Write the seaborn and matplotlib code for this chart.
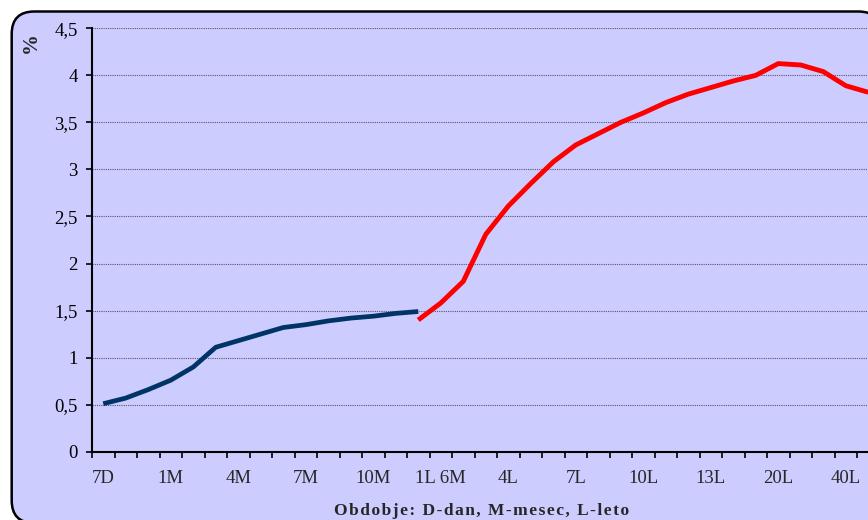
import numpy as np
import pandas as pd
import matplotlib
matplotlib.use('Agg')
import matplotlib.pyplot as plt
from matplotlib.patches import FancyBboxPatch
from matplotlib.ticker import FixedLocator, FuncFormatter
import seaborn as sns

# category labels along the x axis (only every 3rd is shown)
categories = ['7D', '14D', '21D', '1M', '2M', '3M', '4M', '5M', '6M', '7M', '8M', '9M',
              '10M', '11M', '12M', '1L 6M', '2L', '3L', '4L', '5L', '6L', '7L', '8L', '9L',
              '10L', '11L', '12L', '13L', '14L', '15L', '20L', '25L', '30L', '40L', '50L']

# money market curve (navy), categories 0..14
navy_values = [0.51, 0.57, 0.66, 0.76, 0.90, 1.11, 1.18, 1.25, 1.32, 1.35, 1.39, 1.42,
               1.44, 1.47, 1.49]
# bond curve (red), categories 14..34
red_values = [1.40, 1.58, 1.81, 2.31, 2.61, 2.85, 3.08, 3.26, 3.38, 3.50, 3.60, 3.71,
              3.80, 3.87, 3.94, 4.00, 4.125, 4.11, 4.04, 3.89, 3.82]

y_ticks = [0, 0.5, 1, 1.5, 2, 2.5, 3, 3.5, 4, 4.5]

bg = '#CCCCFF'
navy = '#003366'
red = '#FF0000'

sns.set_style('white')
plt.rcParams['font.family'] = ['Liberation Serif', 'DejaVu Serif']

navy_df = pd.DataFrame({'k': np.arange(len(navy_values)), 'v': navy_values})
red_df = pd.DataFrame({'k': np.arange(14, 14 + len(red_values)), 'v': red_values})

W, H = 868, 520
fig = plt.figure(figsize=(W / 100, H / 100), dpi=100)
fig.patch.set_facecolor('white')

# rounded chart border (cut off on the right and bottom like the original)
border = FancyBboxPatch((11.7 / W, -3.0 / H), (881 - 11.7) / W, (508.5 + 3.0) / H,
                        boxstyle='round,pad=0,rounding_size=0.026',
                        transform=fig.transFigure, facecolor=bg, edgecolor='black',
                        linewidth=1.8, mutation_aspect=W / H, zorder=-5)
fig.patches.append(border)

step = 22.5
n_axis = 36
ax = fig.add_axes([92 / W, 68.3 / H, n_axis * step / W, (451.7 - 28.3) / H])
ax.set_facecolor(bg)
ax.set_zorder(1)

sns.lineplot(data=navy_df, x='k', y='v', ax=ax, color=navy, linewidth=3.4,
             solid_capstyle='butt', zorder=3)
sns.lineplot(data=red_df, x='k', y='v', ax=ax, color=red, linewidth=3.5,
             solid_capstyle='butt', zorder=3)

ax.set_xlim(-0.5, n_axis - 0.5)
ax.set_ylim(0, 4.5)

# y axis
ax.set_yticks(y_ticks)
ax.yaxis.set_major_formatter(FuncFormatter(lambda v, p: f'{v:g}'.replace('.', ',')))
ax.yaxis.grid(True, color='#555566', linestyle=(0, (1, 1)), linewidth=0.8)
ax.tick_params(axis='y', direction='out', length=4.3, width=1.2, pad=6,
               labelsize=13.5, left=True, colors='black')

# x axis: tick marks at category boundaries, labels every 3rd category
label_pos = list(range(0, len(categories), 3))
ax.set_xticks(label_pos)
ax.set_xticklabels([categories[i] for i in label_pos])
ax.xaxis.set_minor_locator(FixedLocator(np.arange(-0.5, n_axis, 1)))
ax.tick_params(axis='x', which='major', length=0, pad=13, labelsize=13.5)
ax.tick_params(axis='x', which='minor', direction='out', length=4.3, width=1.2,
               bottom=True, color='black')
ax.xaxis.grid(False)

for s in ['top', 'right']:
    ax.spines[s].set_visible(False)
for s in ['left', 'bottom']:
    ax.spines[s].set_color('black')
    ax.spines[s].set_linewidth(1.5)

ax.set_xlabel('')
ax.set_ylabel('')

# x axis title, letter-spaced a little like the original rendering
xtitle = '\u200a'.join('Obdobje: D-dan, M-mesec, L-leto')
fig.text(482 / W, 1 - 511 / H, xtitle, ha='center', va='center',
         fontsize=12.5, fontweight='bold')
fig.text(31 / W, 1 - 43 / H, '%', rotation=90, ha='center', va='center',
         fontsize=15, fontweight='bold')

fig.savefig('out.png', dpi=100, facecolor=fig.get_facecolor())
